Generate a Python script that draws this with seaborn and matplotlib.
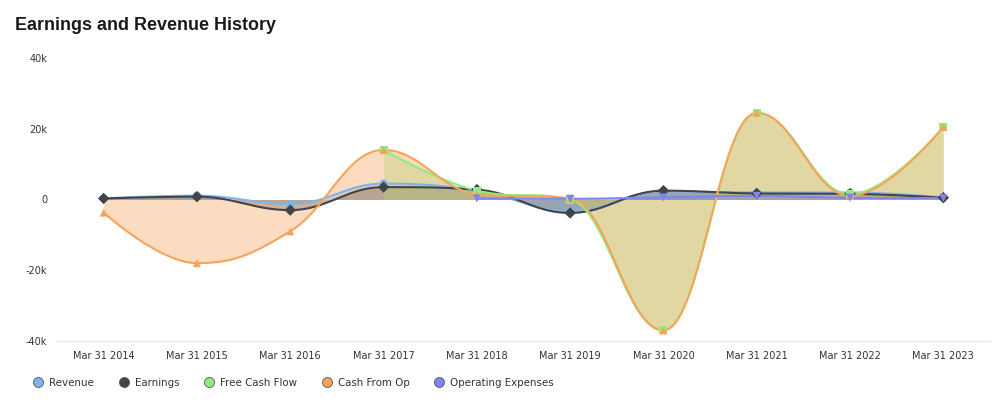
import numpy as np
import pandas as pd
import matplotlib
matplotlib.use("Agg")
import matplotlib.pyplot as plt
from matplotlib.lines import Line2D
from matplotlib.ticker import FuncFormatter
import seaborn as sns

# DATA
periods = ['Mar 31 2014', 'Mar 31 2015', 'Mar 31 2016', 'Mar 31 2017', 'Mar 31 2018',
           'Mar 31 2019', 'Mar 31 2020', 'Mar 31 2021', 'Mar 31 2022', 'Mar 31 2023']
revenue = [300, 1100, -1300, 4500, 2500, -3300, 2300, 2000, 2000, 600]
earnings = [300, 800, -3000, 3500, 2800, -3800, 2500, 1700, 1600, 500]
free_cash_flow = [np.nan, np.nan, np.nan, 14000, 2500, 0, -37000, 24500, 1500, 20500]
cash_from_op = [-3700, -18000, -9000, 14000, 1500, 300, -37000, 24500, 1000, 20500]
operating_expenses = [np.nan, np.nan, np.nan, np.nan, 300, 200, 600, 1000, 500, 400]

series = [
    ('Revenue', revenue, '#7cb5ec', 'o'),
    ('Earnings', earnings, '#434348', 'D'),
    ('Free Cash Flow', free_cash_flow, '#90ed7d', 's'),
    ('Cash From Op', cash_from_op, '#f7a35c', '^'),
    ('Operating Expenses', operating_expenses, '#8085e9', 'v'),
]


def spline_curve(xs, ys, n=40):
    # spline like the original chart library (bezier with smoothing 1.5)
    pts = list(zip(xs, ys))
    m = len(pts)
    sm, den = 1.5, 2.5
    lc = [None] * m
    rc = [None] * m
    for i in range(1, m - 1):
        px, py = pts[i]
        lx, ly = pts[i - 1]
        nx, ny = pts[i + 1]
        lcx, lcy = (sm * px + lx) / den, (sm * py + ly) / den
        rcx, rcy = (sm * px + nx) / den, (sm * py + ny) / den
        corr = ((rcy - lcy) * (rcx - px)) / (rcx - lcx) + py - rcy
        lcy += corr
        rcy += corr
        if lcy > max(ly, py):
            lcy = max(ly, py); rcy = 2 * py - lcy
        elif lcy < min(ly, py):
            lcy = min(ly, py); rcy = 2 * py - lcy
        if rcy > max(py, ny):
            rcy = max(py, ny); lcy = 2 * py - rcy
        elif rcy < min(py, ny):
            rcy = min(py, ny); lcy = 2 * py - rcy
        lc[i] = (lcx, lcy)
        rc[i] = (rcx, rcy)
    cx, cy = [pts[0][0]], [pts[0][1]]
    t = np.linspace(0, 1, n)[1:]
    for i in range(1, m):
        p0 = np.array(pts[i - 1])
        p1 = np.array(rc[i - 1] if rc[i - 1] else pts[i - 1])
        p2 = np.array(lc[i] if lc[i] else pts[i])
        p3 = np.array(pts[i])
        b = ((1 - t) ** 3)[:, None] * p0 + (3 * (1 - t) ** 2 * t)[:, None] * p1 \
            + (3 * (1 - t) * t ** 2)[:, None] * p2 + (t ** 3)[:, None] * p3
        cx.extend(b[:, 0]); cy.extend(b[:, 1])
    return np.array(cx), np.array(cy)


sns.set_theme(style="white")
plt.rcParams['font.family'] = ['DejaVu Sans']

fig = plt.figure(figsize=(10.05, 4.13), dpi=100)
ax = fig.add_axes([57 / 1005, 1 - 341 / 413, (990 - 57) / 1005, (341 - 58) / 413])

for name, vals, color, mk in series:
    df = pd.DataFrame({'x': np.arange(len(periods)), 'y': vals}).dropna()
    cx, cy = spline_curve(df['x'].values, df['y'].values)
    ax.fill_between(cx, cy, 0, color=color, alpha=0.38, linewidth=0)
    sns.lineplot(x=cx, y=cy, sort=False, estimator=None, color=color, linewidth=1.5, ax=ax)
    sns.scatterplot(data=df, x='x', y='y', marker=mk, color=color, s=34,
                    edgecolor='none', ax=ax, zorder=3)

ax.set_xlim(-0.5, len(periods) - 0.5)
ax.set_ylim(-40000, 40000)
ax.set_yticks([-40000, -20000, 0, 20000, 40000])
ax.yaxis.set_major_formatter(FuncFormatter(lambda v, p: '0' if v == 0 else f'{int(v / 1000)}k'))
ax.set_xticks(range(len(periods)))
ax.set_xticklabels(periods)
ax.tick_params(axis='both', length=0, labelsize=7, colors='#333333')
ax.tick_params(axis='x', pad=7)
ax.tick_params(axis='y', pad=7)
ax.set_xlabel('')
ax.set_ylabel('')
for s in ['top', 'right', 'left']:
    ax.spines[s].set_visible(False)
ax.spines['bottom'].set_color('#e6e6e6')
ax.spines['bottom'].set_linewidth(1)
ax.grid(False)

fig.text(15 / 1005, 1 - 25 / 413, 'Earnings and Revenue History', fontsize=12.9,
         fontweight='bold', color='#1a1a1a', va='center', ha='left',
         family=['Liberation Sans', 'DejaVu Sans'])

handles = [Line2D([0], [0], marker='o', linestyle='none', markersize=7.2,
                  markerfacecolor=c, markeredgecolor='#555555', markeredgewidth=0.6)
           for _, _, c, _ in series]
fig.legend(handles, [s[0] for s in series], loc='center left',
           bbox_to_anchor=(34 / 1005, 1 - 383 / 413), ncol=5, frameon=False,
           fontsize=7.4, handlelength=0.8, handletextpad=0.67, columnspacing=2.5,
           borderpad=0, borderaxespad=0, labelcolor='#333333')

fig.savefig('out.png', dpi=100)
